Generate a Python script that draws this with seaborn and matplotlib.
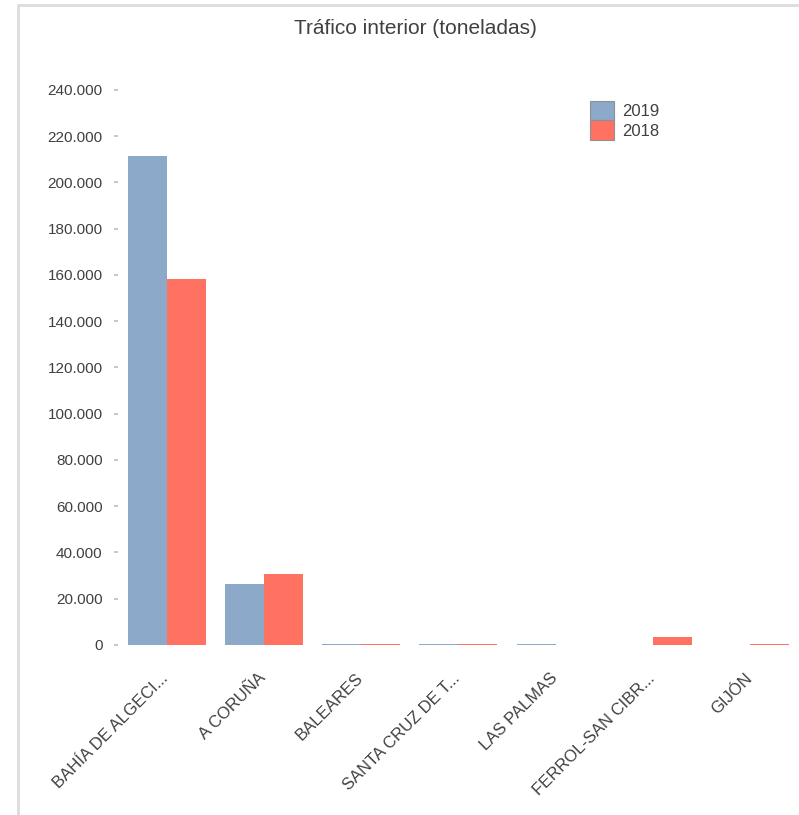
import pandas as pd
import matplotlib.pyplot as plt
import seaborn as sns
from matplotlib.ticker import FuncFormatter, MultipleLocator
from matplotlib.lines import Line2D
from matplotlib.transforms import ScaledTranslation

# Datos (toneladas)
puertos = ["BAHÍA DE ALGECI...", "A CORUÑA", "BALEARES", "SANTA CRUZ DE T...",
           "LAS PALMAS", "FERROL-SAN CIBR...", "GIJÓN"]
valores_2019 = [211500, 26400, 500, 500, 500, 0, 0]
valores_2018 = [158300, 30700, 500, 500, 0, 3500, 500]
anios = ["2019", "2018"]
colores = ["#8CA9C9", "#FF7262"]

df = pd.DataFrame({
    "puerto": puertos * 2,
    "toneladas": valores_2019 + valores_2018,
    "anio": [anios[0]] * len(puertos) + [anios[1]] * len(puertos),
})

sns.set_theme(style="white")
plt.rcParams["font.family"] = ["Liberation Sans", "DejaVu Sans"]

fig = plt.figure(figsize=(7.99, 8.15), dpi=100)
ax = fig.add_axes([0.1477, 0.2086, 0.852, 0.681])

sns.barplot(data=df, x="puerto", y="toneladas", hue="anio", palette=colores,
            saturation=1, width=0.8, linewidth=0, ax=ax)

ax.set_ylim(0, 240000)
ax.yaxis.set_major_locator(MultipleLocator(20000))
ax.yaxis.set_major_formatter(FuncFormatter(lambda v, p: f"{int(v):,}".replace(",", ".")))
ax.set_xlabel("")
ax.set_ylabel("")
for s in ax.spines.values():
    s.set_visible(False)
ax.tick_params(axis="y", which="major", left=True, length=3, color="#bfbfbf",
               labelsize=11, labelcolor="#404040", pad=8)
ax.tick_params(axis="x", bottom=False, labelsize=12, labelcolor="#404040", pad=8)
desplaz = ScaledTranslation(-6 / 100, -6 / 100, fig.dpi_scale_trans)
for lab in ax.get_xticklabels():
    lab.set_rotation(45)
    lab.set_ha("right")
    lab.set_rotation_mode("anchor")
    lab.set_transform(lab.get_transform() + desplaz)

leg = ax.legend(loc="upper left", bbox_to_anchor=(0.672, 1.008), frameon=False,
                fontsize=12, handlelength=1.4, handleheight=1.45, labelspacing=0.0,
                handletextpad=0.5)
for t in leg.get_texts():
    t.set_color("#404040")
for h in leg.legend_handles:
    h.set_edgecolor("#909090")
    h.set_linewidth(0.8)

fig.text(0.52, 0.965, "Tráfico interior (toneladas)", ha="center", va="center",
         fontsize=15, color="#404040")

# marco gris (izquierda y arriba)
fig.add_artist(Line2D([18 / 799, 18 / 799], [0, 1 - 5 / 815], transform=fig.transFigure,
                      color="#dcdcdc", linewidth=2))
fig.add_artist(Line2D([18 / 799, 1], [1 - 5 / 815, 1 - 5 / 815], transform=fig.transFigure,
                      color="#dcdcdc", linewidth=2))

fig.savefig("out.png", dpi=100)
plt.close()
